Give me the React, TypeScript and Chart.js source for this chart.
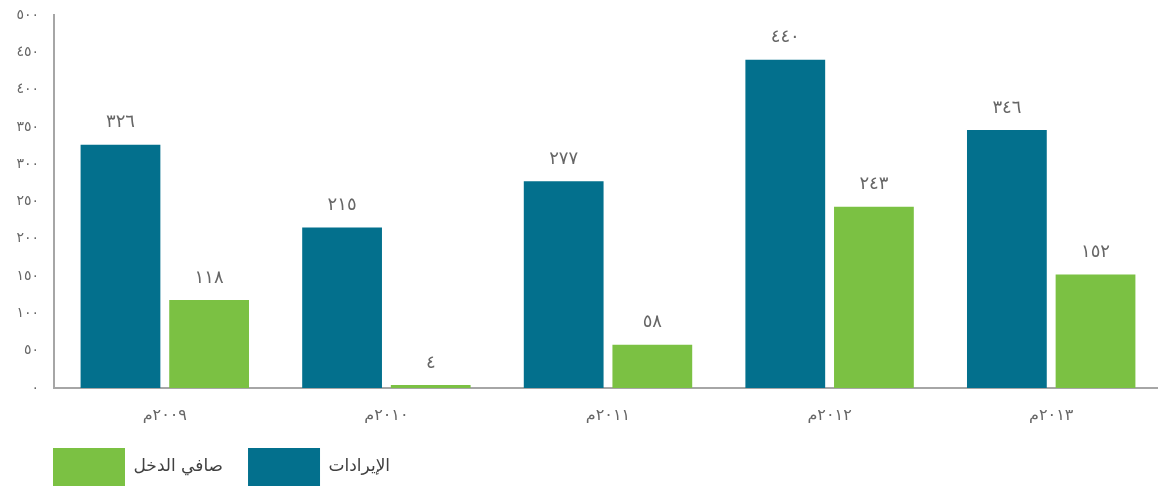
import React, { useEffect, useRef } from "react";
import { Chart, registerables } from "chart.js";

Chart.register(...registerables);

const categories = ["٢٠٠٩م", "٢٠١٠م", "٢٠١١م", "٢٠١٢م", "٢٠١٣م"];
const revenue = [326, 215, 277, 440, 346];
const netIncome = [118, 4, 58, 243, 152];
const seriesNames = ["الإيرادات", "صافي الدخل"];
const seriesColors = ["#03708D", "#7BC143"];
const yTicks = [0, 50, 100, 150, 200, 250, 300, 350, 400, 450, 500];

const FONT = "'DejaVu Sans', 'Noto Sans', sans-serif";
const arabicDigits = ["٠", "١", "٢", "٣", "٤", "٥", "٦", "٧", "٨", "٩"];
const toArabic = (n: number | string) =>
  String(n).replace(/[0-9]/g, (d) => arabicDigits[Number(d)]);

const valueLabels = {
  id: "valueLabels",
  afterDatasetsDraw(chart: any) {
    const ctx = chart.ctx;
    ctx.save();
    ctx.font = `18px ${FONT}`;
    ctx.fillStyle = "#666666";
    ctx.textAlign = "center";
    ctx.textBaseline = "middle";
    chart.data.datasets.forEach((ds: any, di: number) => {
      const meta = chart.getDatasetMeta(di);
      meta.data.forEach((el: any, i: number) => {
        ctx.fillText(toArabic(ds.data[i]), el.x, el.y - 22);
      });
    });
    ctx.restore();
  },
};

const legendTweak = {
  id: "legendTweak",
  beforeLayout(chart: any) {
    const legend = chart.legend;
    if (legend && !legend._patchedFit) {
      const orig = legend.fit.bind(legend);
      legend.fit = function () {
        orig();
        this.height = 67;
      };
      legend._patchedFit = true;
    }
  },
  afterLayout(chart: any) {
    const legend = chart.legend;
    if (legend) {
      legend.left = 28;
    }
  },
};

export default function App() {
  const ref = useRef<HTMLCanvasElement | null>(null);

  useEffect(() => {
    document.body.style.margin = "0";
    document.body.style.overflow = "hidden";
    document.documentElement.style.overflow = "hidden";
    if (!ref.current) return;
    const chart = new Chart(ref.current, {
      type: "bar",
      data: {
        labels: categories,
        datasets: [
          {
            label: seriesNames[0],
            data: revenue,
            backgroundColor: seriesColors[0],
            categoryPercentage: 0.8,
            barPercentage: 0.9,
          },
          {
            label: seriesNames[1],
            data: netIncome,
            backgroundColor: seriesColors[1],
            categoryPercentage: 0.8,
            barPercentage: 0.9,
          },
        ],
      },
      options: {
        animation: false,
        responsive: true,
        maintainAspectRatio: false,
        layout: { padding: { top: 15, left: 4, right: 8, bottom: 0 } },
        plugins: {
          tooltip: { enabled: false },
          legend: {
            position: "bottom",
            align: "start",
            reverse: true,
            labels: {
              boxWidth: 72,
              boxHeight: 38,
              padding: 25,
              color: "#404040",
              font: { family: FONT, size: 17 },
            },
          },
        },
        scales: {
          x: {
            grid: { display: false, drawTicks: false },
            border: { display: true, color: "#A6A6A6", width: 2 },
            ticks: {
              color: "#666666",
              padding: 18,
              font: { family: FONT, size: 16 },
            },
            afterFit: (scale: any) => {
              scale.height = 35;
            },
          },
          y: {
            min: 0,
            max: 500,
            grid: { display: false, drawTicks: false },
            border: { display: true, color: "#A6A6A6", width: 2 },
            afterBuildTicks: (scale: any) => {
              scale.ticks = yTicks.map((v) => ({ value: v }));
            },
            ticks: {
              color: "#666666",
              padding: 15,
              font: { family: FONT, size: 14 },
              callback: (v: any) => toArabic(v),
            },
            afterFit: (scale: any) => {
              scale.width = 50;
              scale.paddingTop = 0;
              scale.paddingBottom = 0;
            },
          },
        },
      },
      plugins: [valueLabels, legendTweak],
    });
    return () => chart.destroy();
  }, []);

  return (
    <div style={{ position: "fixed", left: 0, top: 0, width: 1170, height: 490 }}>
      <canvas ref={ref} />
    </div>
  );
}
